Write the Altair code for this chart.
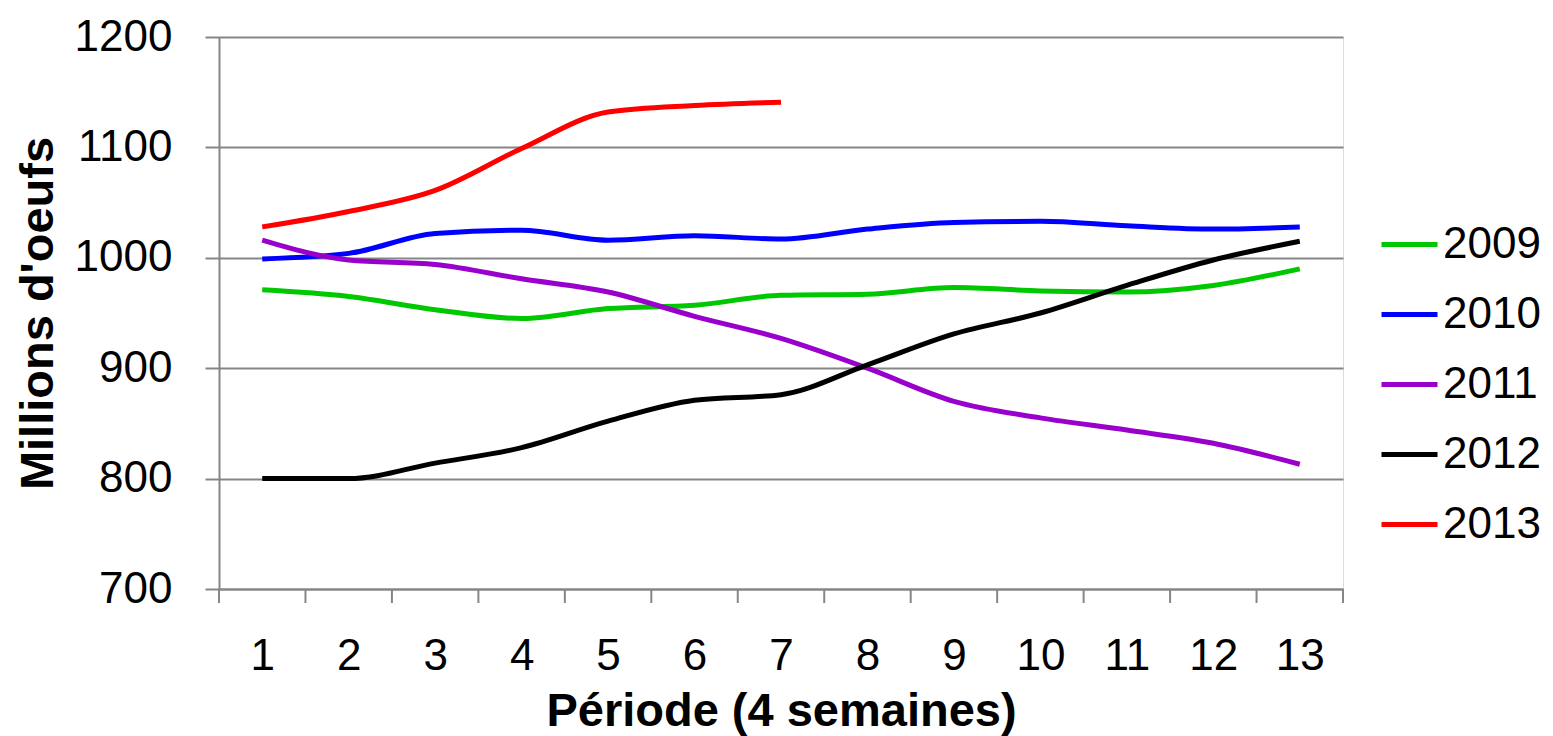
import altair as alt
import pandas as pd

periods = list(range(1, 14))
years = ["2009", "2010", "2011", "2012", "2013"]
colors = ["#00C800", "#0000FF", "#9900CC", "#000000", "#FF0000"]

v2009 = [971, 965, 953, 945, 954, 957, 966, 967, 973, 970, 969, 975, 990]
v2010 = [999, 1004, 1022, 1025, 1016, 1020, 1017, 1026, 1032, 1033, 1029, 1026, 1028]
v2011 = [1016, 998, 994, 981, 969, 947, 927, 900, 870, 855, 844, 832, 813]
v2012 = [800, 800, 814, 828, 852, 871, 876, 903, 931, 950, 975, 998, 1015]
v2013 = [1028, 1042, 1061, 1099, 1132, 1138, 1141]

series = [v2009, v2010, v2011, v2012, v2013]
rows = []
for y, vals in zip(years, series):
    for p, v in zip(periods, vals):
        rows.append({"Période": p, "Année": y, "Valeur": v})
df = pd.DataFrame(rows)

bounds = pd.DataFrame({"b": [p - 0.5 for p in periods] + [periods[-1] + 0.5]})

W, H = 1124, 552
PAD_L, PAD_T = 211, 29
FONT = "Liberation Sans"
GRAY = "#868686"
LABEL_FS = 44
TITLE_FS = 47

xscale = alt.Scale(domain=[0.5, 13.5], nice=False, zero=False)

lines = alt.Chart(df).mark_line(strokeWidth=5, interpolate="monotone").encode(
    x=alt.X("Période:Q", scale=xscale,
            axis=alt.Axis(values=periods, format="d", ticks=False, grid=False, title="Période (4 semaines)",
                          labelFontSize=LABEL_FS, labelPadding=45, labelColor="black", labelFont=FONT,
                          titleFontSize=TITLE_FS, titleFont=FONT, titleFontWeight="bold", titleColor="black",
                          titlePadding=10, domainColor=GRAY, domainWidth=2)),
    y=alt.Y("Valeur:Q", scale=alt.Scale(domain=[700, 1200], nice=False, zero=False),
            axis=alt.Axis(values=[700, 800, 900, 1000, 1100, 1200], format="d", title="Millions d'oeufs",
                          grid=True, gridColor=GRAY, gridWidth=2, tickColor=GRAY, tickWidth=2,
                          tickSize=14, domainColor=GRAY, domainWidth=2,
                          labelFontSize=LABEL_FS, labelPadding=33, labelColor="black", labelFont=FONT,
                          titleFontSize=TITLE_FS, titleFont=FONT, titleFontWeight="bold", titleColor="black",
                          titlePadding=12)),
    color=alt.Color("Année:N", scale=alt.Scale(domain=years, range=colors),
                    legend=alt.Legend(title=None, orient="none", legendX=1160, legendY=177,
                                      symbolType="stroke", symbolStrokeWidth=5, symbolSize=3136,
                                      labelFontSize=LABEL_FS, labelFont=FONT, labelColor="black",
                                      rowPadding=17, labelOffset=3)),
)

ticks = alt.Chart(bounds).mark_rule(color=GRAY, strokeWidth=2).encode(
    x=alt.X("b:Q", scale=xscale),
    y=alt.value(H),
    y2=alt.value(H + 14),
)

chart = alt.layer(lines, ticks).properties(
    width=W, height=H,
    autosize=alt.AutoSizeParams(type="none"),
    padding={"left": PAD_L, "top": PAD_T, "right": 1537 - PAD_L - W, "bottom": 160},
).configure_view(stroke=None).configure(background="white")

chart.save("out.html", embed_options={"renderer": "svg", "actions": False})
